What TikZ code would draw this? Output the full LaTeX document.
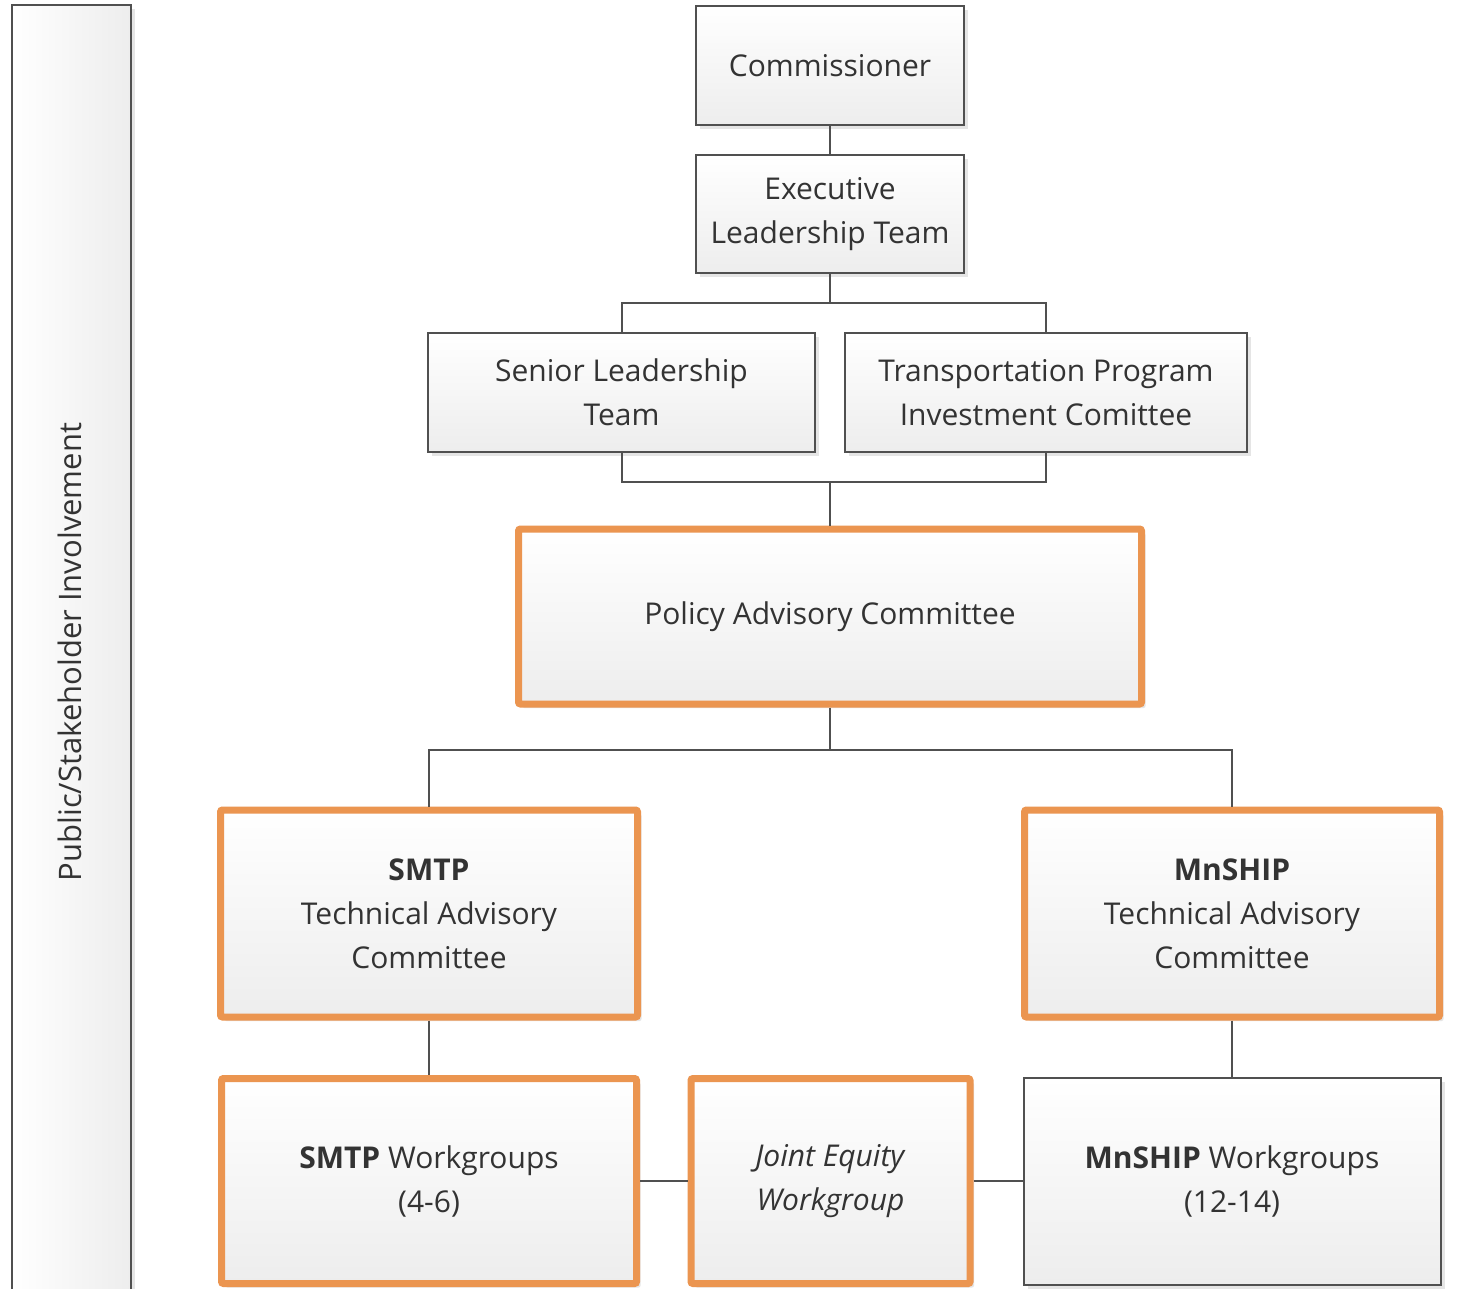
\documentclass[tikz,border=0pt]{standalone}
\usepackage{fontspec}
\setmainfont{Open Sans}
\usetikzlibrary{shadows}
\definecolor{orng}{HTML}{EB9550}
\definecolor{bord}{HTML}{505050}
\definecolor{txt}{HTML}{333333}
\definecolor{fillb}{HTML}{EDEDED}
\tikzset{
  base/.style={rectangle, align=center, text=txt, font=\fontsize{30}{44}\selectfont,
    top color=white, bottom color=fillb, inner sep=0pt,
    drop shadow={shadow xshift=4pt, shadow yshift=-4pt, fill=black!20, opacity=.5}},
  graybox/.style={base, draw=bord, line width=2pt},
  orangebox/.style={base, draw=orng, line width=7pt, rounded corners=2pt},
  conn/.style={draw=bord, line width=2pt},
  sidebar/.style={rectangle, draw=bord, line width=2.5pt, left color=white, right color=fillb,
    drop shadow={shadow xshift=4pt, shadow yshift=-4pt, fill=black!20, opacity=.5}},
}
\begin{document}
\begin{tikzpicture}[x=1pt,y=-1pt]
\clip (0,0) rectangle (1458,1288);
\fill[white] (0,0) rectangle (1458,1288);
% sidebar
\node[sidebar, minimum width=119pt, minimum height=1300pt] (side) at (71.5,655) {};
\node[rotate=90, text=txt, font=\fontsize{31}{36}\selectfont] (sidelabel) at (70,652) {Public/Stakeholder Involvement};
% boxes
\node[graybox, minimum width=268pt, minimum height=119pt] (comm) at (830,65.5) {Commissioner};
\node[graybox, minimum width=268pt, minimum height=118pt] (elt) at (830,214) {Executive\\Leadership Team};
\node[graybox, minimum width=387pt, minimum height=119pt] (slt) at (621.5,392.5) {Senior Leadership\\Team};
\node[graybox, minimum width=402pt, minimum height=119pt] (tpic) at (1046,392.5) {Transportation Program\\Investment Comittee};
\node[orangebox, minimum width=623pt, minimum height=175pt] (pac) at (830,616.5) {Policy Advisory Committee};
\node[orangebox, minimum width=417pt, minimum height=207pt] (stac) at (429,913.5) {\textbf{SMTP}\\Technical Advisory\\Committee};
\node[orangebox, minimum width=415pt, minimum height=207pt] (mtac) at (1232,913.5) {\textbf{MnSHIP}\\Technical Advisory\\Committee};
\node[orangebox, minimum width=415pt, minimum height=205pt] (swg) at (429,1181) {\textbf{SMTP} Workgroups\\(4-6)};
\node[orangebox, minimum width=279pt, minimum height=205pt] (jew) at (830.5,1181) {\textit{Joint Equity}\\\textit{Workgroup}};
\node[graybox, minimum width=417pt, minimum height=207pt] (mwg) at (1232,1181) {\textbf{MnSHIP} Workgroups\\(12-14)};
% junctions
\coordinate (j1) at (830,303);
\coordinate (j2) at (830,482);
\coordinate (j3) at (830,750);
% connectors
\draw[conn] (comm.south) -- (elt.north);
\draw[conn] (elt.south) -- (j1);
\draw[conn] (slt.north) |- (j1) -| (tpic.north);
\draw[conn] (slt.south) |- (j2) -| (tpic.south);
\draw[conn] (j2) -- (pac.north);
\draw[conn] (pac.south) -- (j3);
\draw[conn] (stac.north) |- (j3) -| (mtac.north);
\draw[conn] (stac.south) -- (swg.north);
\draw[conn] (mtac.south) -- (mwg.north);
\draw[conn] (swg.east) -- (jew.west);
\draw[conn] (jew.east) -- (mwg.west);
\end{tikzpicture}
\end{document}
